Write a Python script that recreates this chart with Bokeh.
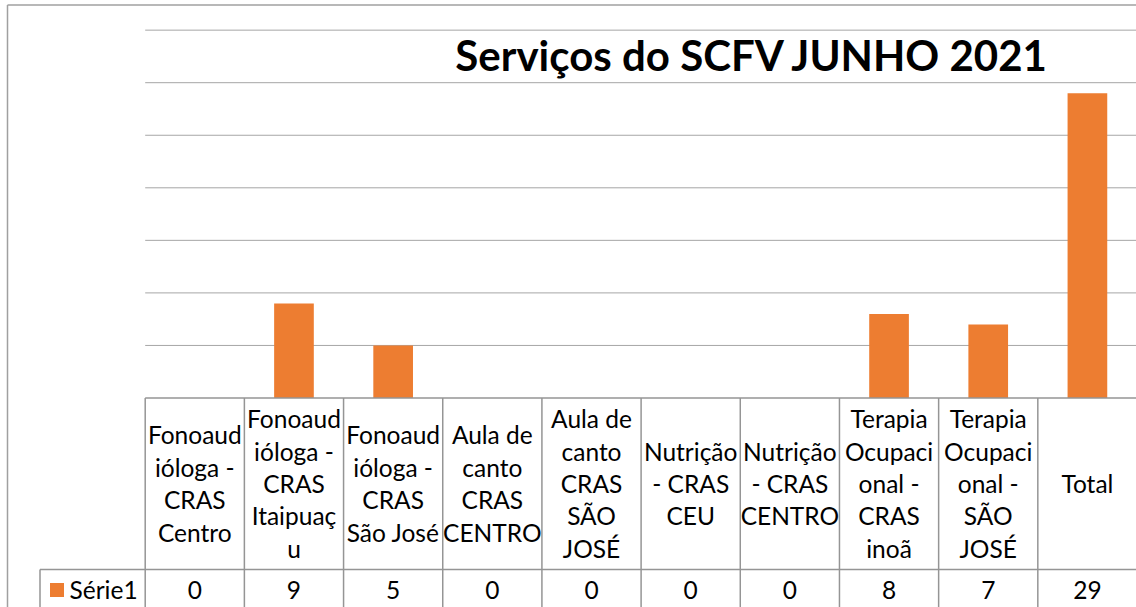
from bokeh.plotting import figure
from bokeh.models import Range1d, Label, ColumnDataSource
from bokeh.core.properties import value
from bokeh.embed import file_html
from bokeh.resources import INLINE

# ---------------- data ----------------
title_text = "Serviços do SCFV JUNHO 2021"
series_name = "Série1"
categories = [
    "Fonoaudióloga - CRAS Centro",
    "Fonoaudióloga - CRAS Itaipuaçu",
    "Fonoaudióloga - CRAS São José",
    "Aula de canto CRAS CENTRO",
    "Aula de canto CRAS SÃO JOSÉ",
    "Nutrição - CRAS CEU",
    "Nutrição - CRAS CENTRO",
    "Terapia Ocupacional - CRAS inoã",
    "Terapia Ocupacional - SÃO JOSÉ",
    "Total",
]
tick_labels = [
    "Fonoaud\nióloga -\nCRAS\nCentro",
    "Fonoaud\nióloga -\nCRAS\nItaipuaç\nu",
    "Fonoaud\nióloga -\nCRAS\nSão José",
    "Aula de\ncanto\nCRAS\nCENTRO",
    "Aula de\ncanto\nCRAS\nSÃO\nJOSÉ",
    "Nutrição\n- CRAS\nCEU",
    "Nutrição\n- CRAS\nCENTRO",
    "Terapia\nOcupaci\nonal -\nCRAS\ninoã",
    "Terapia\nOcupaci\nonal -\nSÃO\nJOSÉ",
    "Total",
]
values = [0, 9, 5, 0, 0, 0, 0, 8, 7, 29]
grid_values = [5, 10, 15, 20, 25, 30, 35]

# ---------------- layout constants (pixels) ----------------
W, H = 1136, 607
COL0 = 144.7                  # screen x of first column boundary
COLW = 99.18                  # column width in px
BASE = 397.5                  # screen y of value 0
PXU = 10.51                   # px per value unit

def ux(sx):
    return (sx - COL0) / COLW

def vy(sy):
    return (BASE - sy) / PXU

ORANGE = "#ED7D31"
GRID = "#a6a6a6"
TABLE = "#959595"
FONT = "Lato"

p = figure(width=W, height=H, output_backend="svg", toolbar_location=None,
           x_range=Range1d(ux(0), ux(W)), y_range=Range1d(vy(H), vy(0)),
           x_axis_type=None, y_axis_type=None, min_border=0,
           outline_line_color=None, background_fill_color="white",
           border_fill_color="white")
p.grid.visible = False

n = len(categories)
xc = [i + 0.5 for i in range(n)]

# outer chart border (top and left)
p.segment(x0=[ux(7)], y0=[vy(4.5)], x1=[ux(W + 2)], y1=[vy(4.5)],
          line_color="#a0a0a0", line_width=1.5)
p.segment(x0=[ux(7)], y0=[vy(4.5)], x1=[ux(7)], y1=[vy(H + 2)],
          line_color="#a0a0a0", line_width=1.5)

# gridlines
p.segment(x0=[0] * len(grid_values), y0=grid_values,
          x1=[n + 1] * len(grid_values), y1=grid_values,
          line_color=GRID, line_width=1)

# bars
src = ColumnDataSource(dict(x=xc, top=values, cat=categories))
p.vbar(x="x", top="top", bottom=0, width=0.4, source=src,
       fill_color=ORANGE, line_color=None)

# data table
header_bottom = vy(569)
table_bottom = vy(H + 20)
legend_left = ux(39.5)
p.segment(x0=[0, legend_left], y0=[0, header_bottom], x1=[n + 1, n + 1], y1=[0, header_bottom],
          line_color=TABLE, line_width=1.5)
vx = list(range(n + 1))
p.segment(x0=vx, y0=[0] * len(vx), x1=vx, y1=[table_bottom] * len(vx),
          line_color=TABLE, line_width=1.5)
p.segment(x0=[legend_left], y0=[header_bottom], x1=[legend_left], y1=[table_bottom],
          line_color=TABLE, line_width=1.5)

# header texts
p.text(x=xc, y=[vy(483)] * n, text=tick_labels, text_font=value(FONT),
       text_font_size="24.5px", text_align="center", text_baseline="middle",
       text_line_height=1.12, text_color="black")
# value texts
p.text(x=xc, y=[vy(589)] * n, text=[str(v) for v in values], text_font=value(FONT),
       text_font_size="24.5px", text_align="center", text_baseline="middle",
       text_color="black")
# legend key
p.rect(x=[ux(56.5)], y=[vy(589.5)], width=14, height=14, width_units="screen",
       height_units="screen", fill_color=ORANGE, line_color=None)
p.text(x=[ux(69)], y=[vy(589)], text=[series_name], text_font=value(FONT),
       text_font_size="24.5px", text_align="left", text_baseline="middle",
       text_color="black")

# title (placed in data space, centred on the cap height of the reference)
p.text(x=[ux(752)], y=[vy(54)], text=[title_text], text_font=value(FONT),
       text_font_style="bold", text_font_size="42px", text_align="center",
       text_baseline="middle", text_color="black")

open("out.html", "w").write(file_html(p, INLINE))
